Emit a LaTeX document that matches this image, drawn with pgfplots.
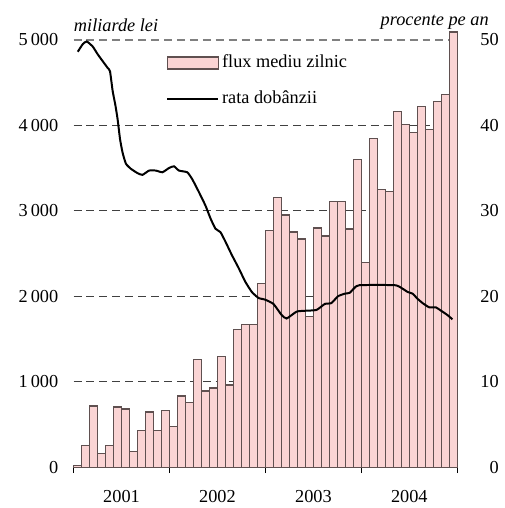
\documentclass[border=0pt]{standalone}
\usepackage{fontspec}
\setmainfont{Liberation Serif}
\usepackage{pgfplots}
\pgfplotsset{compat=1.18}

\definecolor{barfill}{RGB}{250,212,212}
\definecolor{baredge}{RGB}{95,80,80}

\begin{document}
\begin{tikzpicture}[font=\fontsize{9.2}{11}\selectfont]
\begin{axis}[
    name=ax,
    scale only axis, width=193pt, height=215pt,
    xmin=0, xmax=48, ymin=0, ymax=5000,
    clip=false,
    axis x line*=bottom, axis y line*=left,
    y axis line style={draw=none},
    x axis line style={-, line width=0.6pt},
    ytick={0,1000,2000,3000,4000},
    yticklabels={0,1\,000,2\,000,3\,000,4\,000},
    extra y ticks={5000}, extra y tick labels={5\,000},
    extra y tick style={grid style={black!50, line width=0.9pt, dash pattern=on 4pt off 2.5pt}},
    ymajorgrids,
    grid style={black!75, line width=0.5pt, dash pattern=on 4pt off 2.5pt},
    yticklabel style={anchor=east, inner sep=0pt, xshift=-7.5pt},
    xtick={6,18,30,42}, xticklabels={2001,2002,2003,2004},
    minor xtick={0,12,24,36,48},
    tick align=outside,
    major tick length=0pt, minor tick length=3pt,
    minor tick style={black, line width=0.6pt},
    xticklabel style={anchor=north, inner sep=0pt, yshift=-11.5pt},
]
\addplot[ybar, bar width=1, bar shift=0pt, fill=barfill, draw=baredge, line width=0.6pt]
coordinates {
(0.5,20) (1.5,252) (2.5,717) (3.5,159) (4.5,252) (5.5,705)
(6.5,682) (7.5,182) (8.5,426) (9.5,647) (10.5,426) (11.5,667)
(12.5,481) (13.5,833) (14.5,760) (15.5,1264) (16.5,891) (17.5,926)
(18.5,1298) (19.5,961) (20.5,1609) (21.5,1667) (22.5,1667) (23.5,2147)
(24.5,2767) (25.5,3155) (26.5,2950) (27.5,2752) (28.5,2670) (29.5,1764)
(30.5,2798) (31.5,2705) (32.5,3112) (33.5,3112) (34.5,2787) (35.5,3601)
(36.5,2391) (37.5,3849) (38.5,3252) (39.5,3229) (40.5,4159) (41.5,4008)
(42.5,3915) (43.5,4217) (44.5,3950) (45.5,4276) (46.5,4357) (47.5,5090)
};
\node[anchor=base west, inner sep=0pt, font=\fontsize{9.2}{11}\itshape] at (rel axis cs:0,1) [yshift=4.2pt] {miliarde lei};
\node[anchor=base east, inner sep=0pt, font=\fontsize{9.2}{11}\itshape] at (rel axis cs:1,1) [xshift=16pt, yshift=7pt] {procente pe an};
\end{axis}

\begin{axis}[
    scale only axis, width=193pt, height=215pt,
    xmin=0, xmax=48, ymin=0, ymax=50,
    axis x line=none, axis y line*=right,
    y axis line style={draw=none},
    ytick={0,10,20,30,40,50},
    yticklabels={0,10,20,30,40,50},
    major tick length=0pt,
    yticklabel style={anchor=east, inner sep=0pt, xshift=21pt},
    legend style={draw=none, fill=none, inner sep=0pt, at={(0.241,0.972)}, anchor=north west,
        row sep=7pt, font=\fontsize{9.2}{11}\selectfont,
        nodes={inner sep=1.5pt}},
    legend cell align=left,
]
\addlegendimage{legend image code/.code={\draw[fill=barfill, draw=baredge, line width=0.6pt] (0pt,-3pt) rectangle (25.5pt,3pt);}}
\addlegendentry{flux mediu zilnic}
\addplot[black, line width=1pt, smooth, tension=0.3,
    legend image code/.code={\draw[black, line width=1pt] (0pt,0pt) -- (25.5pt,0pt);}]
coordinates {
(0.53,48.6) (1.16,49.5) (1.65,49.8) (2.40,49.2) (3.02,48.3) (3.64,47.5)
(4.27,46.7) (4.56,46.3) (4.89,44.0) (5.22,42.4) (5.51,40.7) (5.81,38.4)
(6.13,36.8) (6.55,35.5) (7.18,34.9) (8.00,34.4) (8.62,34.2) (9.45,34.7)
(10.29,34.7) (11.11,34.5) (11.94,35.0) (12.56,35.2) (13.18,34.7) (14.22,34.5)
(14.84,33.7) (15.67,32.2) (16.50,30.6) (17.13,29.1) (17.75,27.9) (18.37,27.5)
(18.99,26.4) (19.81,24.8) (20.65,23.3) (21.48,21.7) (22.30,20.5) (23.13,19.8)
(23.97,19.6) (25.00,19.1) (26.03,17.8) (26.65,17.4) (27.90,18.2) (28.94,18.3)
(30.39,18.4) (31.43,19.1) (32.25,19.2) (33.08,20.0) (33.92,20.3) (34.54,20.4)
(35.16,21.0) (35.78,21.3) (40.14,21.3) (40.96,21.0) (41.79,20.5) (42.41,20.3)
(43.03,19.7) (43.66,19.2) (44.49,18.7) (45.31,18.7) (46.14,18.2) (46.77,17.8)
(47.39,17.3)
};
\addlegendentry{rata dobânzii}
\end{axis}
\path (ax.south west) +(-37pt,-20.5pt) (ax.north east) +(23.5pt,20pt);
\end{tikzpicture}
\end{document}
